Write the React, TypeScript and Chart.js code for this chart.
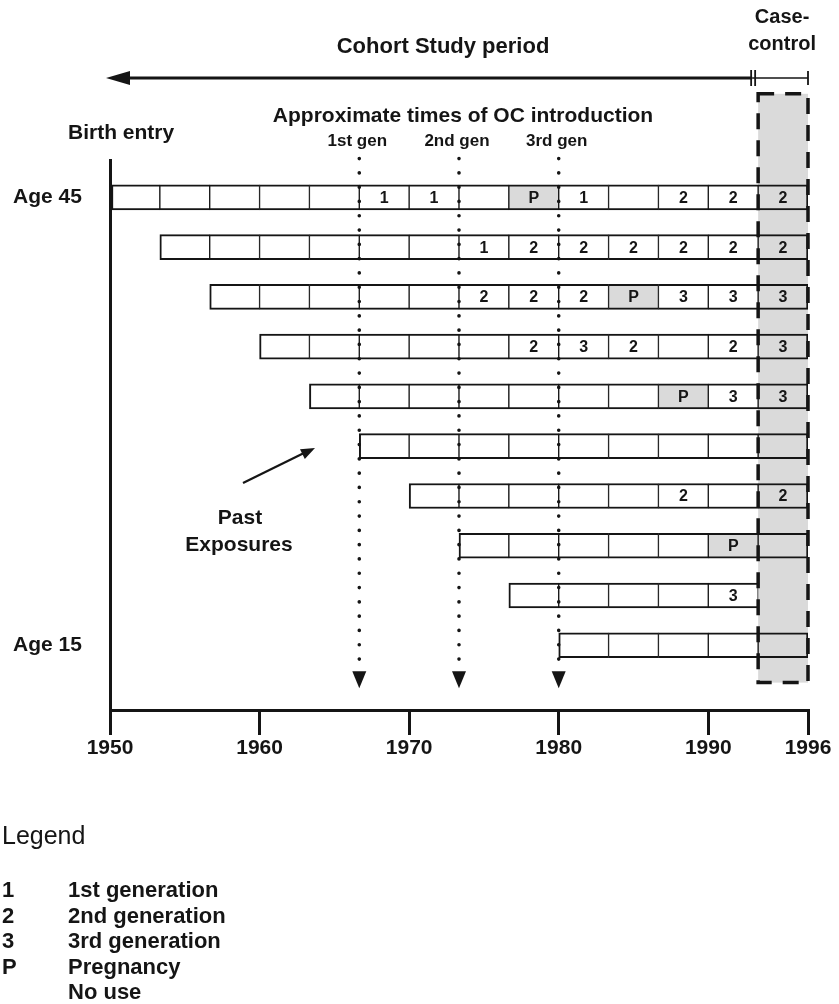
import React, { useEffect, useRef } from "react";
import { Chart, registerables } from "chart.js";

Chart.register(...registerables);

// ---- data ----
const tickPeriods = [0, 3, 6, 9, 12, 14];
const tickLabels = ["1950", "1960", "1970", "1980", "1990", "1996"];

const rowStartPeriods = [0, 1, 2, 3, 4, 5, 6, 7, 8, 9];
const row1 = ["", "", "", "", "", "1", "1", "", "P", "1", "", "2", "2", "2"];
const row2 = ["", "", "", "", "", "", "1", "2", "2", "2", "2", "2", "2"];
const row3 = ["", "", "", "", "", "2", "2", "2", "P", "3", "3", "3"];
const row4 = ["", "", "", "", "", "2", "3", "2", "", "2", "3"];
const row5 = ["", "", "", "", "", "", "", "P", "3", "3"];
const row6 = ["", "", "", "", "", "", "", "", ""];
const row7 = ["", "", "", "", "", "2", "", "2"];
const row8 = ["", "", "", "", "", "P", ""];
const row9 = ["", "", "", "", "3"];
const row10 = ["", "", "", "", ""];
const rows = [row1, row2, row3, row4, row5, row6, row7, row8, row9, row10];

const ocIntroPeriods = [5, 7, 9];
const ocGenLabels = ["1st gen", "2nd gen", "3rd gen"];
const caseControlPeriod = 13;

const ageLabels = ["Age 45", "Age 15"];
const ageRows = [0, 9];

const legendKeys = ["1", "2", "3", "P", ""];
const legendTexts = ["1st generation", "2nd generation", "3rd generation", "Pregnancy", "No use"];

// ---- style ----
const FONT = "'Liberation Sans', Arial, Helvetica, sans-serif";
const INK = "#151515";
const SHADE = "#dadada";

export default function App() {
  const ref = useRef<HTMLCanvasElement>(null);

  useEffect(() => {
    const canvas = ref.current;
    if (!canvas) return;

    const cells: any[] = [];
    rows.forEach((labels, r) => {
      const start = rowStartPeriods[r];
      labels.forEach((lab, k) => {
        const c = start + k;
        cells.push({ x: [c, c + 1], y: r, label: lab, col: c, first: k === 0 });
      });
    });

    const text = (ctx: CanvasRenderingContext2D, s: string, x: number, y: number, size: number, align: CanvasTextAlign = "center", weight = "bold") => {
      ctx.save();
      ctx.font = `${weight} ${size}px ${FONT}`;
      ctx.fillStyle = INK;
      ctx.textAlign = align;
      ctx.textBaseline = "middle";
      ctx.fillText(s, x, y);
      ctx.restore();
    };

    const overlay = {
      id: "overlay",
      beforeDatasetsDraw(chart: any) {
        const { ctx } = chart;
        const xs = chart.scales.x;
        const ys = chart.scales.y;
        const x0 = xs.getPixelForValue(caseControlPeriod);
        const x1 = xs.getPixelForValue(caseControlPeriod + 1);
        const yt = ys.getPixelForValue(-2.08);
        const yb = ys.getPixelForValue(9.75);
        ctx.save();
        ctx.fillStyle = SHADE;
        ctx.fillRect(x0, yt, x1 - x0, yb - yt);
        ctx.restore();
      },
      afterDatasetsDraw(chart: any) {
        const { ctx } = chart;
        const xs = chart.scales.x;
        const ys = chart.scales.y;
        const meta = chart.getDatasetMeta(0);
        meta.data.forEach((el: any, i: number) => {
          const lab = cells[i].label;
          if (!lab) return;
          const p = el.getProps(["x", "y", "base"], true);
          text(ctx, lab, (p.x + p.base) / 2, p.y + 1, 16);
        });

        // dashed case-control box
        const x0 = xs.getPixelForValue(caseControlPeriod);
        const x1 = xs.getPixelForValue(caseControlPeriod + 1);
        const yt = ys.getPixelForValue(-2.08);
        const yb = ys.getPixelForValue(9.75);
        ctx.save();
        ctx.strokeStyle = INK;
        ctx.lineWidth = 3.5;
        ctx.setLineDash([16, 11]);
        ctx.beginPath();
        ctx.moveTo(x0, yt);
        ctx.lineTo(x1, yt);
        ctx.lineTo(x1, yb);
        ctx.lineTo(x0, yb);
        ctx.closePath();
        ctx.stroke();
        ctx.restore();

        // OC introduction dotted lines
        const yStart = ys.getPixelForValue(-0.78);
        const yEnd = ys.getPixelForValue(9.4);
        ocIntroPeriods.forEach((per) => {
          const x = xs.getPixelForValue(per);
          ctx.save();
          ctx.strokeStyle = INK;
          ctx.lineWidth = 3.6;
          ctx.lineCap = "round";
          ctx.setLineDash([0.1, 14.2]);
          ctx.beginPath();
          ctx.moveTo(x, yStart);
          ctx.lineTo(x, yEnd);
          ctx.stroke();
          ctx.setLineDash([]);
          ctx.fillStyle = INK;
          ctx.beginPath();
          ctx.moveTo(x - 7, yEnd + 6);
          ctx.lineTo(x + 7, yEnd + 6);
          ctx.lineTo(x, yEnd + 23);
          ctx.closePath();
          ctx.fill();
          ctx.restore();
        });
      },
      afterDraw(chart: any) {
        const { ctx } = chart;
        const xs = chart.scales.x;
        const ys = chart.scales.y;
        const xL = xs.getPixelForValue(0);
        const xR = xs.getPixelForValue(14);
        const xCC = xs.getPixelForValue(caseControlPeriod);

        // top titles
        text(ctx, "Cohort Study period", 443, 47, 22);
        text(ctx, "Case-", (xCC + xR) / 2 - 1, 17, 20);
        text(ctx, "control", (xCC + xR) / 2 - 1, 44, 20);

        // study period arrow
        ctx.save();
        ctx.strokeStyle = INK;
        ctx.fillStyle = INK;
        ctx.lineWidth = 3;
        ctx.beginPath();
        ctx.moveTo(xCC - 6, 78);
        ctx.lineTo(xL + 14, 78);
        ctx.stroke();
        ctx.lineWidth = 1.6;
        ctx.beginPath();
        ctx.moveTo(xCC - 6, 78);
        ctx.lineTo(xR, 78);
        ctx.stroke();
        ctx.lineWidth = 1.8;
        ctx.beginPath();
        ctx.moveTo(xCC - 7, 70);
        ctx.lineTo(xCC - 7, 86);
        ctx.moveTo(xCC - 3, 70);
        ctx.lineTo(xCC - 3, 86);
        ctx.moveTo(xR, 71);
        ctx.lineTo(xR, 85);
        ctx.stroke();
        ctx.beginPath();
        ctx.moveTo(xL - 4, 78);
        ctx.lineTo(xL + 20, 71);
        ctx.lineTo(xL + 20, 85);
        ctx.closePath();
        ctx.fill();
        ctx.restore();

        // OC introduction labels
        text(ctx, "Approximate times of OC introduction", 463, 116, 21);
        ocIntroPeriods.forEach((per, i) => {
          text(ctx, ocGenLabels[i], xs.getPixelForValue(per) - 2, 141, 17);
        });

        // row labels
        text(ctx, "Birth entry", 68, 133, 21, "left");
        ageLabels.forEach((s, i) => {
          text(ctx, s, 13, ys.getPixelForValue(ageRows[i]), 21, "left");
        });

        // past exposures
        ctx.save();
        ctx.strokeStyle = INK;
        ctx.fillStyle = INK;
        ctx.lineWidth = 2.2;
        ctx.beginPath();
        ctx.moveTo(243, 483);
        ctx.lineTo(306, 452);
        ctx.stroke();
        const ang = Math.atan2(448 - 483, 315 - 243);
        ctx.translate(315, 448);
        ctx.rotate(ang);
        ctx.beginPath();
        ctx.moveTo(0, 0);
        ctx.lineTo(-14, -5.5);
        ctx.lineTo(-14, 5.5);
        ctx.closePath();
        ctx.fill();
        ctx.restore();
        text(ctx, "Past", 240, 518, 21);
        text(ctx, "Exposures", 239, 545, 21);

        // legend
        text(ctx, "Legend", 2, 837, 25, "left", "normal");
        legendKeys.forEach((k, i) => {
          const y = 891 + i * 25.5;
          if (k) text(ctx, k, 2, y, 22, "left");
          text(ctx, legendTexts[i], 68, y, 22, "left");
        });
      },
    };

    const chart = new Chart(canvas, {
      type: "bar",
      data: {
        datasets: [
          {
            data: cells,
            backgroundColor: (c: any) => {
              const raw = c.raw;
              if (!raw) return "#ffffff";
              return raw.label === "P" || raw.col === caseControlPeriod ? SHADE : "#ffffff";
            },
            borderColor: INK,
            borderWidth: (c: any) => {
              const raw = c.raw;
              if (!raw) return 2;
              return { top: 2, bottom: 2, left: raw.first ? 2 : 1, right: raw.col === caseControlPeriod ? 2 : 1 };
            },
            borderSkipped: false,
            barThickness: 25,
          } as any,
        ],
      },
      options: {
        indexAxis: "y",
        animation: false,
        responsive: false,
        devicePixelRatio: 1,
        events: [],
        layout: { padding: { top: 160, left: 110, right: 31, bottom: 224 } },
        plugins: { legend: { display: false }, tooltip: { enabled: false } },
        scales: {
          x: {
            type: "linear",
            position: "bottom",
            offset: false,
            min: 0,
            max: 14,
            grid: { display: true, offset: false, drawOnChartArea: false, drawTicks: true, tickLength: 25, color: INK, lineWidth: 3 },
            border: { display: true, color: INK, width: 3 },
            ticks: {
              autoSkip: false,
              maxRotation: 0,
              padding: 1,
              color: INK,
              font: { family: FONT, size: 21, weight: "bold" },
              callback: (v: any) => {
                const i = tickPeriods.indexOf(Number(v));
                return i >= 0 ? tickLabels[i] : "";
              },
            },
            afterBuildTicks: (s: any) => {
              s.ticks = tickPeriods.map((v) => ({ value: v }));
            },
            afterFit: (s: any) => {
              s.height = 70;
            },
          },
          y: {
            type: "linear",
            position: "left",
            offset: false,
            reverse: true,
            min: -0.75,
            max: 10.3,
            grid: { display: false, offset: false },
            border: { display: true, color: INK, width: 3 },
            ticks: { display: false },
            afterFit: (s: any) => {
              s.width = 0;
            },
          },
        },
      } as any,
      plugins: [overlay],
    });

    return () => chart.destroy();
  }, []);

  return (
    <div style={{ position: "absolute", left: 0, top: 0, width: 839, height: 1004, background: "#fff" }}>
      <canvas ref={ref} width={839} height={1004} style={{ display: "block" }} />
    </div>
  );
}
